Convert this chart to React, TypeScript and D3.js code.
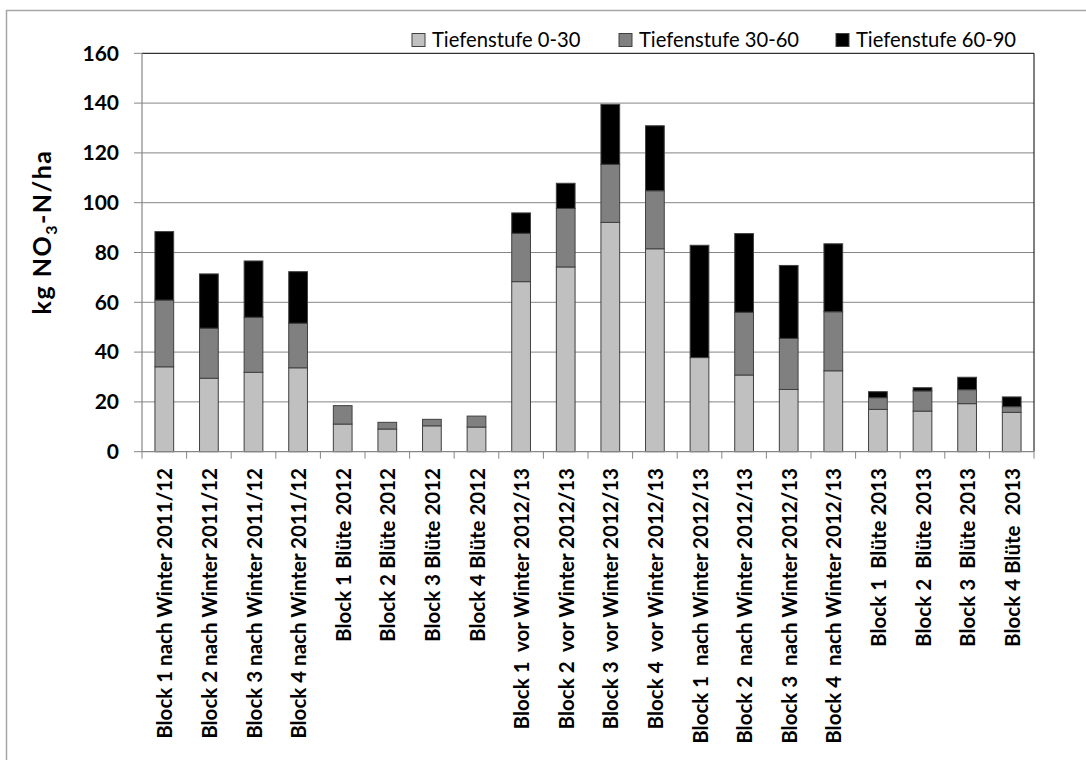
import React from "react";
import * as d3 from "d3";

const width = 1086;
const height = 760;

// categories along the x axis
const categories = [
  "Block 1 nach Winter 2011/12",
  "Block 2 nach Winter 2011/12",
  "Block 3 nach Winter 2011/12",
  "Block 4 nach Winter 2011/12",
  "Block 1 Blüte 2012",
  "Block 2 Blüte 2012",
  "Block 3 Blüte 2012",
  "Block 4 Blüte 2012",
  "Block 1  vor Winter 2012/13",
  "Block 2  vor Winter 2012/13",
  "Block 3  vor Winter 2012/13",
  "Block 4  vor Winter 2012/13",
  "Block 1  nach Winter 2012/13",
  "Block 2  nach Winter 2012/13",
  "Block 3  nach Winter 2012/13",
  "Block 4  nach Winter 2012/13",
  "Block 1  Blüte 2013",
  "Block 2  Blüte 2013",
  "Block 3  Blüte 2013",
  "Block 4 Blüte  2013",
];

// kg NO3-N/ha per depth layer
const depth0to30 = [34.1, 29.5, 31.9, 33.7, 11.1, 9.1, 10.4, 9.9, 68.3, 74.2, 92.1, 81.5, 37.8, 30.8, 25.0, 32.5, 17.0, 16.3, 19.3, 15.8];
const depth30to60 = [26.8, 20.1, 22.1, 17.9, 7.4, 2.7, 2.6, 4.4, 19.4, 23.5, 23.3, 23.3, 0, 25.2, 20.5, 23.7, 4.7, 8.1, 5.6, 2.3];
const depth60to90 = [27.5, 21.8, 22.6, 20.7, 0, 0, 0, 0, 8.2, 10.1, 24.1, 26.1, 45.1, 31.6, 29.3, 27.3, 2.4, 1.3, 5.0, 3.9];

const seriesNames = ["Tiefenstufe 0-30", "Tiefenstufe 30-60", "Tiefenstufe 60-90"];
const seriesColors = ["#c0c0c0", "#808080", "#000000"];
const yTicks = [0, 20, 40, 60, 80, 100, 120, 140, 160];

const plotLeft = 142;
const plotRight = 1034;
const plotTop = 53.3;
const plotBottom = 451.7;

const font = "Lato, 'Open Sans', sans-serif";

export default function App() {
  const rows = categories.map((c, i) => ({
    cat: c,
    s0: depth0to30[i],
    s1: depth30to60[i],
    s2: depth60to90[i],
  }));
  const stacked = d3.stack<any>().keys(["s0", "s1", "s2"])(rows);

  const x = d3
    .scaleBand()
    .domain(categories)
    .range([plotLeft, plotRight])
    .paddingInner(0.58)
    .paddingOuter(0.29);
  const y = d3.scaleLinear().domain([0, 160]).range([plotBottom, plotTop]);
  const step = x.step();

  const legendX = [412, 619, 836];

  return (
    <svg
      width={width}
      height={height}
      style={{ position: "absolute", left: 0, top: 0, background: "#fff" }}
      fontFamily={font}
    >
      {/* outer chart frame */}
      <rect x={6.5} y={10.5} width={1100} height={800} fill="#fff" stroke="#a6a6a6" strokeWidth={1.5} />

      {/* gridlines */}
      {yTicks.slice(1, -1).map((t) => (
        <line key={t} x1={plotLeft} x2={plotRight} y1={y(t)} y2={y(t)} stroke="#868686" strokeWidth={1} />
      ))}
      {/* plot area border top/right */}
      <path
        d={`M${plotLeft},${y(160)}H${plotRight}V${plotBottom}`}
        fill="none"
        stroke="#000"
        strokeWidth={1}
      />

      {/* bars */}
      {stacked.map((layer, li) => (
        <g key={li}>
          {layer.map((d, i) =>
            d[1] - d[0] > 0 ? (
              <rect
                key={i}
                x={x(categories[i])!}
                y={y(d[1])}
                width={x.bandwidth()}
                height={y(d[0]) - y(d[1])}
                fill={seriesColors[li]}
                stroke="#404040"
                strokeWidth={1}
              />
            ) : null
          )}
        </g>
      ))}

      {/* y axis */}
      <line x1={plotLeft} x2={plotLeft} y1={plotTop} y2={plotBottom} stroke="#868686" strokeWidth={1.2} />
      {yTicks.map((t) => (
        <g key={t}>
          <line x1={plotLeft - 8} x2={plotLeft} y1={y(t)} y2={y(t)} stroke="#868686" strokeWidth={1} />
          <text x={119} y={y(t)} dy="0.35em" textAnchor="end" fontSize={21} fontWeight="bold" fill="#000">
            {t}
          </text>
        </g>
      ))}

      {/* x axis */}
      <line x1={plotLeft} x2={plotRight} y1={plotBottom} y2={plotBottom} stroke="#868686" strokeWidth={1.2} />
      {d3.range(categories.length + 1).map((i) => (
        <line
          key={i}
          x1={plotLeft + i * step}
          x2={plotLeft + i * step}
          y1={plotBottom}
          y2={plotBottom + 7}
          stroke="#868686"
          strokeWidth={1}
        />
      ))}
      {categories.map((c) => {
        const cx = x(c)! + x.bandwidth() / 2;
        return (
          <text
            key={c}
            transform={`translate(${cx + 1},468) rotate(-90)`}
            textAnchor="end"
            dy="0.35em"
            fontSize={20.5}
            fontWeight="bold"
            fill="#000"
            style={{ whiteSpace: "pre" }}
          >
            {c}
          </text>
        );
      })}

      {/* y axis title */}
      <text
        transform="translate(42,232) rotate(-90)"
        textAnchor="middle"
        dy="0.35em"
        fontSize={25}
        fontWeight="bold"
        letterSpacing={1.5}
        fill="#000"
      >
        kg NO
        <tspan fontSize={16} dy="6">3</tspan>
        <tspan dy="-6">-N/ha</tspan>
      </text>

      {/* legend */}
      {seriesNames.map((n, i) => (
        <g key={n}>
          <rect x={legendX[i]} y={33.5} width={13} height={13} fill={seriesColors[i]} stroke="#404040" strokeWidth={1} />
          <text x={legendX[i] + 20} y={40} dy="0.35em" fontSize={20.2} fill="#000">
            {n}
          </text>
        </g>
      ))}
    </svg>
  );
}
